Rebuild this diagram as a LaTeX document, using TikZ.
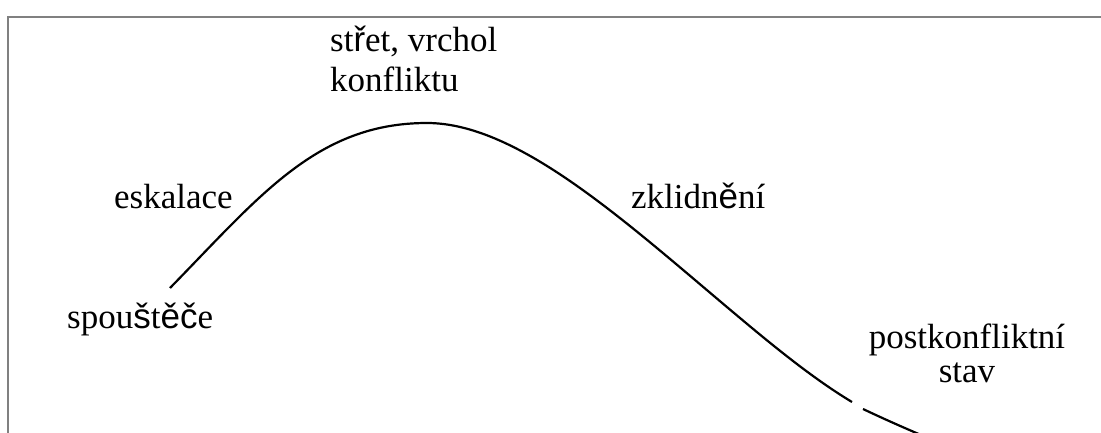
\documentclass[tikz,border=0pt]{standalone}
\usepackage{fontspec}
\setmainfont{Liberation Serif}
\newfontfamily\fallbacksans{Liberation Sans}
\newcommand{\fs}[1]{{\fallbacksans #1}}
\begin{document}
\begin{tikzpicture}[x=1pt,y=-1pt,
  lbl/.style={inner sep=0pt,font=\fontsize{35}{40}\selectfont},
  frameline/.style={draw=black!50,line width=2.2pt},
  curveline/.style={draw=black,line width=2.2pt}]
\useasboundingbox (0,0) rectangle (1101,433);
% frame
\draw[frameline] (1101,17) -- (8,17) -- (8,433);
% curve
\coordinate (s) at (170,288);
\coordinate (top) at (427,123);
\coordinate (infl) at (740,318);
\coordinate (g1) at (852,402);
\coordinate (g2) at (863,409);
\coordinate (e) at (921,435);
\draw[curveline] (s) .. controls (260,196) and (317,123) .. (top)
  .. controls (520,123) and (630,226) .. (infl)
  .. controls (780,351.6) and (817,381) .. (g1);
\draw[curveline] (g2) .. controls (882,418) and (900,426) .. (e);
% labels
\node[lbl,anchor=base west] (stret) at (330,52) {st\fs{ř}et, vrchol};
\node[lbl,anchor=base west] (konf) at (330,92) {konfliktu};
\node[lbl,anchor=base west] (esk) at (114,208) {eskalace};
\node[lbl,anchor=base west] (zkl) at (631,208) {zklidn\fs{ě}ní};
\node[lbl,anchor=base west] (spo) at (67,328) {spou\fs{š}t\fs{ěč}e};
\node[lbl,anchor=base] (post) at (967,348) {postkonfliktní};
\node[lbl,anchor=base] (stav) at (967,382) {stav};
\end{tikzpicture}
\end{document}
